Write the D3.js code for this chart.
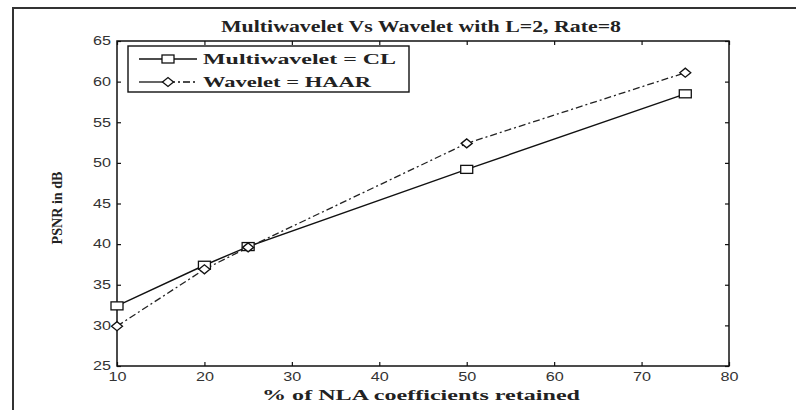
<!DOCTYPE html>
<html>
<head>
<meta charset="utf-8">
<script src="https://cdn.jsdelivr.net/npm/d3@7"></script>
<style>
  body { margin: 0; background: #fff; }
  svg { display: block; }
</style>
</head>
<body>
<div id="chart"></div>
<script>
// page size
var width = 796,
    height = 410;

// plot box inside the page
var margin = {top: 41, right: 67, bottom: 44, left: 117};

// data
var percentRetained = [10, 20, 25, 50, 75];
var multiwaveletCL = [32.4, 37.4, 39.7, 49.2, 58.5];
var waveletHAAR = [29.9, 36.9, 39.6, 52.4, 61.1];

var xTicks = [10, 20, 30, 40, 50, 60, 70, 80],
    yTicks = [25, 30, 35, 40, 45, 50, 55, 60, 65];

var titleText = "Multiwavelet Vs Wavelet with L=2, Rate=8",
    xLabelText = "% of NLA coefficients retained",
    yLabelText = "PSNR in dB";

var seriesNames = ["Multiwavelet = CL", "Wavelet = HAAR"];

var svg = d3.select("#chart")
    .append("svg")
    .attr("width", width)
    .attr("height", height);

var plotW = width - margin.left - margin.right,
    plotH = height - margin.top - margin.bottom;

var x = d3.scaleLinear().domain([10, 80]).range([margin.left, margin.left + plotW]);
var y = d3.scaleLinear().domain([25, 65]).range([margin.top + plotH, margin.top]);

// outer frame of the figure (only top and left show)
svg.append("path")
    .attr("d", "M13," + height + "V8H" + width)
    .attr("fill", "none")
    .attr("stroke", "#333")
    .attr("stroke-width", 2);

var serif = "'Liberation Serif', 'Times New Roman', serif",
    sans = "'Liberation Sans', Arial, sans-serif";

// inward ticks on all four sides, matlab style
var tickLen = 4;
var g = svg.append("g");

g.append("g")
    .attr("transform", "translate(0," + (margin.top + plotH) + ")")
    .call(d3.axisBottom(x).tickValues(xTicks).tickSizeInner(-tickLen).tickSizeOuter(0).tickPadding(6))
    .call(function(a) { a.select(".domain").remove(); });

g.append("g")
    .attr("transform", "translate(0," + margin.top + ")")
    .call(d3.axisTop(x).tickValues(xTicks).tickSizeInner(-tickLen).tickSizeOuter(0).tickFormat(""))
    .call(function(a) { a.select(".domain").remove(); });

g.append("g")
    .attr("transform", "translate(" + margin.left + ",0)")
    .call(d3.axisLeft(y).tickValues(yTicks).tickSizeInner(-tickLen).tickSizeOuter(0).tickPadding(6))
    .call(function(a) { a.select(".domain").remove(); });

g.append("g")
    .attr("transform", "translate(" + (margin.left + plotW) + ",0)")
    .call(d3.axisRight(y).tickValues(yTicks).tickSizeInner(-tickLen).tickSizeOuter(0).tickFormat(""))
    .call(function(a) { a.select(".domain").remove(); });

g.selectAll(".tick line").attr("stroke", "#111").attr("stroke-width", 1.2);
g.selectAll(".tick text")
    .attr("font-family", sans)
    .attr("font-size", "12px")
    .attr("fill", "#333")
    .attr("textLength", 18)
    .attr("lengthAdjust", "spacingAndGlyphs");

// plot box
svg.append("rect")
    .attr("x", margin.left)
    .attr("y", margin.top)
    .attr("width", plotW)
    .attr("height", plotH)
    .attr("fill", "none")
    .attr("stroke", "#111")
    .attr("stroke-width", 1.5);

// lines
var line = d3.line()
    .x(function(d) { return x(d[0]); })
    .y(function(d) { return y(d[1]); });

var multiPts = percentRetained.map(function(p, i) { return [p, multiwaveletCL[i]]; }),
    wavePts = percentRetained.map(function(p, i) { return [p, waveletHAAR[i]]; });

svg.append("path")
    .datum(multiPts)
    .attr("d", line)
    .attr("fill", "none")
    .attr("stroke", "#111")
    .attr("stroke-width", 1.4);

svg.append("path")
    .datum(wavePts)
    .attr("d", line)
    .attr("fill", "none")
    .attr("stroke", "#222")
    .attr("stroke-width", 1.3)
    .attr("stroke-dasharray", "7,3,2,3");

// markers
function square(sel) {
    sel.append("rect")
        .attr("x", -6).attr("y", -4)
        .attr("width", 12).attr("height", 8)
        .attr("fill", "#fff")
        .attr("stroke", "#111")
        .attr("stroke-width", 1.3);
}
function diamond(sel) {
    sel.append("path")
        .attr("d", "M-5.5,0L0,-4.5L5.5,0L0,4.5Z")
        .attr("fill", "#fff")
        .attr("stroke", "#111")
        .attr("stroke-width", 1.3);
}

svg.selectAll(".sq")
    .data(multiPts)
    .enter().append("g")
    .attr("class", "sq")
    .attr("transform", function(d) { return "translate(" + x(d[0]) + "," + y(d[1]) + ")"; })
    .call(square);

svg.selectAll(".dm")
    .data(wavePts)
    .enter().append("g")
    .attr("class", "dm")
    .attr("transform", function(d) { return "translate(" + x(d[0]) + "," + y(d[1]) + ")"; })
    .call(diamond);

// title and axis labels
svg.append("text")
    .attr("x", 421)
    .attr("y", 32)
    .attr("text-anchor", "middle")
    .attr("font-family", serif)
    .attr("font-weight", "bold")
    .attr("font-size", "16px")
    .attr("fill", "#222")
    .attr("textLength", 400)
    .attr("lengthAdjust", "spacingAndGlyphs")
    .text(titleText);

svg.append("text")
    .attr("x", 421)
    .attr("y", 400)
    .attr("text-anchor", "middle")
    .attr("font-family", serif)
    .attr("font-weight", "bold")
    .attr("font-size", "15px")
    .attr("fill", "#222")
    .attr("textLength", 318)
    .attr("lengthAdjust", "spacingAndGlyphs")
    .text(xLabelText);

svg.append("text")
    .attr("transform", "translate(62,208) rotate(-90)")
    .attr("text-anchor", "middle")
    .attr("font-family", serif)
    .attr("font-weight", "bold")
    .attr("font-size", "14px")
    .attr("fill", "#222")
    .attr("textLength", 73)
    .attr("lengthAdjust", "spacingAndGlyphs")
    .text(yLabelText);

// legend
var legend = svg.append("g");
legend.append("rect")
    .attr("x", 128).attr("y", 46)
    .attr("width", 281).attr("height", 46)
    .attr("fill", "#fff")
    .attr("stroke", "#111")
    .attr("stroke-width", 1.4);

var legendRows = legend.selectAll(".legend")
    .data(seriesNames)
    .enter().append("g")
    .attr("class", "legend")
    .attr("transform", function(d, i) { return "translate(0," + (59 + i * 23) + ")"; });

legendRows.append("line")
    .attr("x1", 139).attr("x2", 197)
    .attr("stroke", "#111")
    .attr("stroke-width", 1.3)
    .attr("stroke-dasharray", function(d, i) { return i === 1 ? "none" : null; });

// second row: solid left half, dashed right half like the picture
legendRows.filter(function(d, i) { return i === 1; }).select("line")
    .attr("x2", 168);
legendRows.filter(function(d, i) { return i === 1; }).append("line")
    .attr("x1", 168).attr("x2", 197)
    .attr("stroke", "#111")
    .attr("stroke-width", 1.3)
    .attr("stroke-dasharray", "7,3,2,3");

legendRows.each(function(d, i) {
    var row = d3.select(this).append("g").attr("transform", "translate(168,0)");
    if (i === 0) square(row); else diamond(row);
});

legendRows.append("text")
    .attr("x", 203)
    .attr("y", 5)
    .attr("font-family", serif)
    .attr("font-weight", "bold")
    .attr("font-size", "15px")
    .attr("fill", "#222")
    .attr("textLength", function(d, i) { return i === 0 ? 193 : 168; })
    .attr("lengthAdjust", "spacingAndGlyphs")
    .text(function(d) { return d; });
</script>
</body>
</html>
